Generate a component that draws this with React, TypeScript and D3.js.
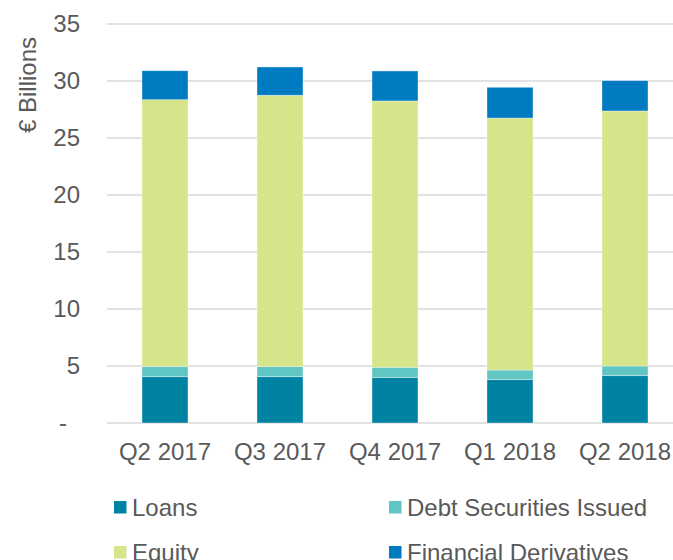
import { useEffect, useRef } from 'react';
import * as d3 from 'd3';

const categories = ['Q2 2017', 'Q3 2017', 'Q4 2017', 'Q1 2018', 'Q2 2018'];
const loans = [4.06, 4.06, 4.0, 3.8, 4.15];
const debtSecurities = [0.91, 0.88, 0.89, 0.85, 0.85];
const equity = [23.39, 23.81, 23.36, 22.1, 22.37];
const derivatives = [2.54, 2.48, 2.63, 2.7, 2.66];
const yTicks = [0, 5, 10, 15, 20, 25, 30, 35];

const seriesNames = ['Loans', 'Debt Securities Issued', 'Equity', 'Financial Derivatives'];
const seriesColors = ['#0083a2', '#61c5c3', '#d6e48a', '#007bc2'];

const width = 673;
const height = 560;
const font = '"Liberation Sans", Arial, sans-serif';
const textColor = '#595959';
const fontSize = 24;

export default function App() {
  const svgRef = useRef<SVGSVGElement>(null);

  useEffect(() => {
    if (!svgRef.current) return;
    const svg = d3.select(svgRef.current);
    svg.selectAll('*').remove();

    const rows = categories.map((c, i) => ({
      cat: c,
      s0: loans[i],
      s1: debtSecurities[i],
      s2: equity[i],
      s3: derivatives[i],
    }));
    const keys = ['s0', 's1', 's2', 's3'];
    const stacked = d3.stack<any>().keys(keys)(rows);

    const x = d3.scaleBand()
      .domain(categories)
      .range([107.5, 682.5])
      .paddingInner(0.6)
      .paddingOuter(0.3);

    const y = d3.scaleLinear().domain([0, 30]).range([423, 81]);

    // gridlines
    svg.append('g')
      .selectAll('line')
      .data(yTicks)
      .join('line')
      .attr('x1', 107)
      .attr('x2', width)
      .attr('y1', (d) => y(d))
      .attr('y2', (d) => y(d))
      .attr('stroke', '#d9d9d9')
      .attr('stroke-width', 1.5);

    // y tick labels
    svg.append('g')
      .selectAll('text')
      .data(yTicks)
      .join('text')
      .attr('x', (d) => (d === 0 ? 67 : 80))
      .attr('y', (d) => y(d))
      .attr('dy', '0.35em')
      .attr('text-anchor', 'end')
      .attr('font-family', font)
      .attr('font-size', fontSize)
      .attr('fill', textColor)
      .text((d) => (d === 0 ? '-' : String(d)));

    // y axis title
    svg.append('text')
      .attr('transform', 'translate(36,85) rotate(-90)')
      .attr('text-anchor', 'middle')
      .attr('font-family', font)
      .attr('font-size', fontSize)
      .attr('fill', textColor)
      .text('€ Billions');

    // bars
    svg.append('g')
      .selectAll('g')
      .data(stacked)
      .join('g')
      .attr('fill', (d, i) => seriesColors[i])
      .selectAll('rect')
      .data((d) => d)
      .join('rect')
      .attr('x', (d: any) => x(d.data.cat)!)
      .attr('width', x.bandwidth())
      .attr('y', (d) => y(d[1]))
      .attr('height', (d) => y(d[0]) - y(d[1]))
      .attr('stroke', 'rgba(255,255,255,0.5)')
      .attr('stroke-width', 0.7);

    // x labels
    svg.append('g')
      .selectAll('text')
      .data(categories)
      .join('text')
      .attr('x', (d) => x(d)! + x.bandwidth() / 2)
      .attr('y', 459.5)
      .attr('text-anchor', 'middle')
      .attr('font-family', font)
      .attr('font-size', fontSize)
      .attr('fill', textColor)
      .text((d) => d);

    // legend
    const legend = svg.append('g')
      .selectAll('g')
      .data(seriesNames)
      .join('g')
      .attr('transform', (d, i) => `translate(${i % 2 === 0 ? 114 : 389},${i < 2 ? 501 : 546})`);

    legend.append('rect')
      .attr('width', 12.5)
      .attr('height', 12.5)
      .attr('fill', (d, i) => seriesColors[i]);

    legend.append('text')
      .attr('x', 18)
      .attr('y', 14.5)
      .attr('font-family', font)
      .attr('font-size', fontSize)
      .attr('fill', textColor)
      .text((d) => d);
  }, []);

  return (
    <div style={{ position: 'absolute', left: 0, top: 0 }}>
      <svg ref={svgRef} width={width} height={height} style={{ display: 'block', background: '#fff' }} />
    </div>
  );
}
